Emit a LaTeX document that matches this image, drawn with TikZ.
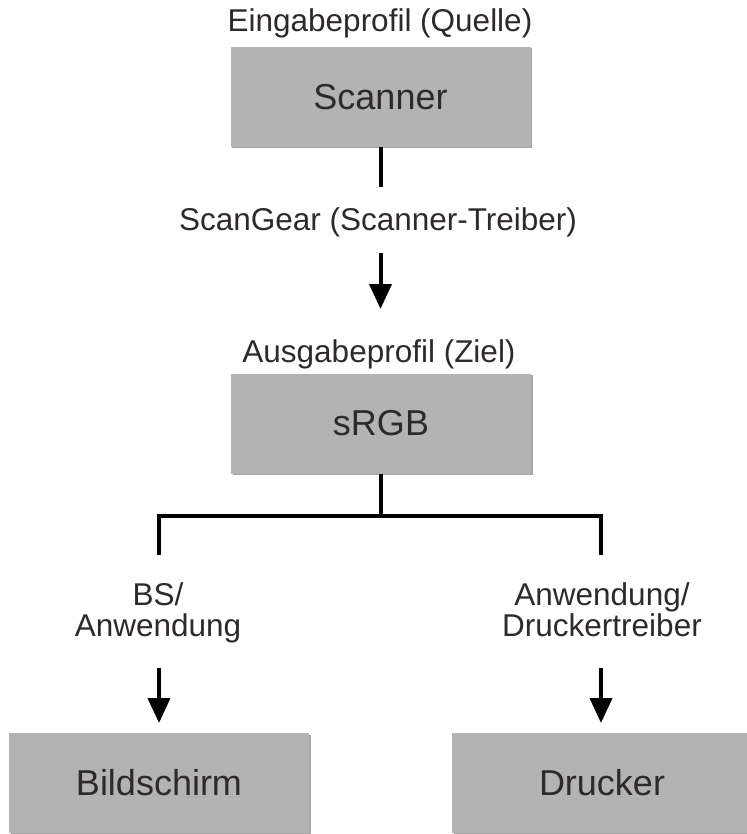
\documentclass[tikz,border=0pt]{standalone}
\usepackage{fontspec}
\setmainfont{Liberation Sans}
\usetikzlibrary{arrows.meta,shadows}
\definecolor{boxgray}{HTML}{B3B3B3}
\definecolor{txt}{HTML}{2E2A2A}
\tikzset{
  box/.style={fill=boxgray, draw=none, inner sep=0pt, minimum width=300pt, minimum height=100pt,
    text=txt, font=\fontsize{36}{40}\selectfont,
    drop shadow={shadow xshift=1.5pt, shadow yshift=-1.5pt, fill=black, opacity=0.35}},
  lbl/.style={text=txt, inner sep=0pt, anchor=base, align=center, font=\fontsize{31.5}{31}\selectfont},
  conn/.style={line width=4pt, draw=black},
  arr/.style={conn, -{Triangle[width=22pt,length=25pt]}}
}
\begin{document}
\begin{tikzpicture}[x=1pt,y=-1pt]
\useasboundingbox (0,0) rectangle (746,834);
% boxes
\node[box] (scanner) at (380.5,97) {Scanner};
\node[box] (srgb) at (381,423.5) {sRGB};
\node[box] (bild) at (159,783) {Bildschirm};
\node[box] (druck) at (602,783) {Drucker};
% labels
\node[lbl] (ein) at (380,32) {Eingabeprofil (Quelle)};
\node[lbl] (scangear) at (378,230) {ScanGear (Scanner-Treiber)};
\node[lbl] (aus) at (379,362) {Ausgabeprofil (Ziel)};
\node[lbl] (bs) at (158,636) {BS/\\Anwendung};
\node[lbl] (anw) at (602,636) {Anwendung/\\Druckertreiber};
% connector coordinates
\coordinate (l1) at (380.5,187);
\coordinate (a1s) at (380.5,253);
\coordinate (a1e) at (380.5,309);
\coordinate (j) at (381,516);
\coordinate (jl) at (159,516);
\coordinate (jr) at (601,516);
\coordinate (bl) at (159,555);
\coordinate (br) at (601,555);
\coordinate (a2s) at (159,668);
\coordinate (a2e) at (159,723);
\coordinate (a3s) at (601,668);
\coordinate (a3e) at (601,723);
% connectors
\draw[conn] (scanner.south) -- (l1);
\draw[arr] (a1s) -- (a1e);
\draw[conn] (srgb.south) -- (j);
\draw[conn, line join=miter] (bl) -- (jl) -- (jr) -- (br);
\draw[arr] (a2s) -- (a2e);
\draw[arr] (a3s) -- (a3e);
\end{tikzpicture}
\end{document}
